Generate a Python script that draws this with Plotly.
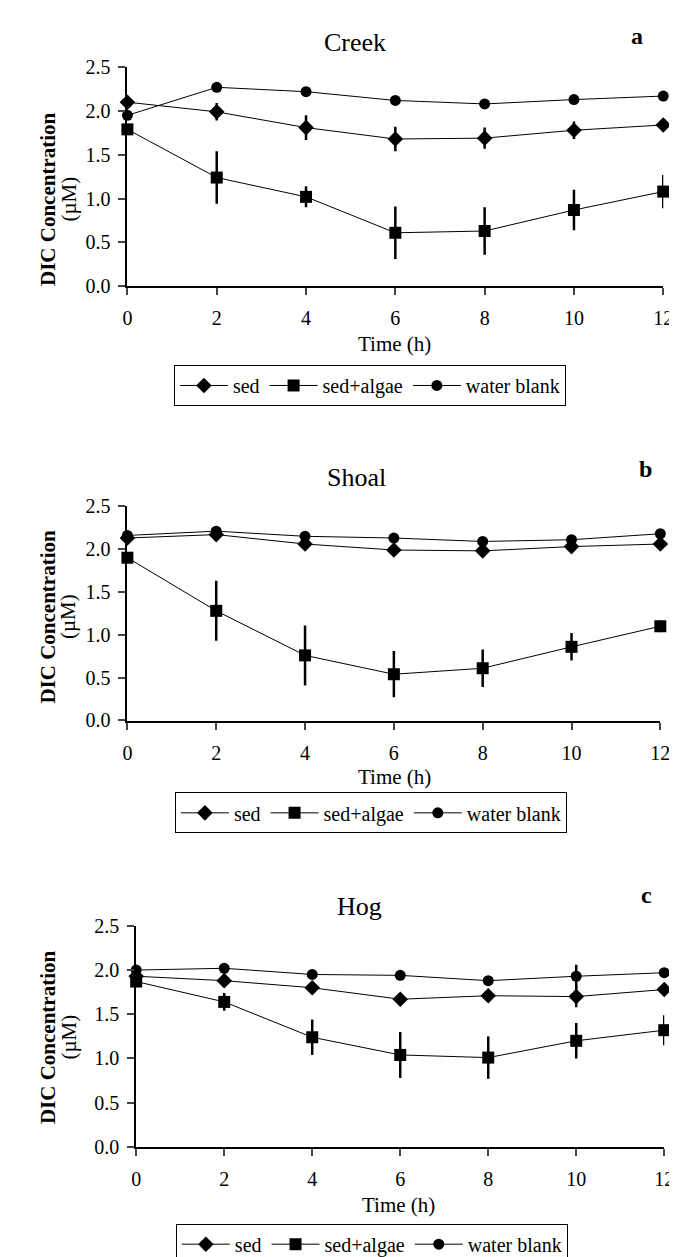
import plotly.graph_objects as go

W, H = 677, 1257
FONT = "Liberation Serif"

time_h = [0, 2, 4, 6, 8, 10, 12]
series_names = ["sed", "sed+algae", "water blank"]
x_ticks = [0, 2, 4, 6, 8, 10, 12]
y_ticks = [0.0, 0.5, 1.0, 1.5, 2.0, 2.5]
y_tick_text = ["0.0", "0.5", "1.0", "1.5", "2.0", "2.5"]

# Panel a: Creek
creek_sed = [2.10, 1.99, 1.81, 1.68, 1.69, 1.78, 1.84]
creek_sed_err = [0.0, 0.10, 0.14, 0.14, 0.12, 0.10, 0.03]
creek_algae = [1.79, 1.24, 1.02, 0.61, 0.63, 0.87, 1.08]
creek_algae_err = [0.05, 0.30, 0.12, 0.30, 0.27, 0.23, 0.19]
creek_water = [1.95, 2.27, 2.22, 2.12, 2.08, 2.13, 2.17]
creek_water_err = [0.0, 0.0, 0.0, 0.0, 0.0, 0.0, 0.0]

# Panel b: Shoal
shoal_sed = [2.13, 2.17, 2.06, 1.99, 1.98, 2.03, 2.06]
shoal_sed_err = [0.03, 0.03, 0.06, 0.02, 0.03, 0.02, 0.02]
shoal_algae = [1.90, 1.28, 0.76, 0.54, 0.61, 0.86, 1.10]
shoal_algae_err = [0.05, 0.35, 0.35, 0.27, 0.22, 0.16, 0.07]
shoal_water = [2.16, 2.21, 2.15, 2.13, 2.09, 2.11, 2.18]
shoal_water_err = [0.0, 0.0, 0.0, 0.0, 0.0, 0.0, 0.0]

# Panel c: Hog
hog_sed = [1.93, 1.88, 1.80, 1.67, 1.71, 1.70, 1.78]
hog_sed_err = [0.0, 0.0, 0.03, 0.02, 0.03, 0.12, 0.02]
hog_algae = [1.87, 1.64, 1.24, 1.04, 1.01, 1.20, 1.32]
hog_algae_err = [0.03, 0.10, 0.20, 0.26, 0.24, 0.20, 0.17]
hog_water = [2.00, 2.02, 1.95, 1.94, 1.88, 1.93, 1.97]
hog_water_err = [0.0, 0.0, 0.0, 0.0, 0.02, 0.13, 0.0]

panel_titles = ["Creek", "Shoal", "Hog"]
panel_letters = ["a", "b", "c"]


def px(x):
    return x / W


def py(y):
    return 1 - y / H


# pixel layout of each panel: x0, x12, ytop(2.5), ybottom(0)
panels = [
    dict(x0=117, x1=665, yt=49, yb=272, title=(350, 24), letter=(638, 17),
         xtitle=(390, 331), legend=(365, 373), ytitle=(183,)),
    dict(x0=117, x1=662, yt=496, yb=714, title=(351, 467), letter=(647, 458),
         xtitle=(390, 772), legend=(366, 808), ytitle=(608,)),
    dict(x0=126, x1=666, yt=923, yb=1148, title=(354, 903), letter=(648, 892),
         xtitle=(394, 1207), legend=(367, 1247), ytitle=(1036,)),
]

data = [
    (creek_sed, creek_sed_err, creek_algae, creek_algae_err, creek_water, creek_water_err),
    (shoal_sed, shoal_sed_err, shoal_algae, shoal_algae_err, shoal_water, shoal_water_err),
    (hog_sed, hog_sed_err, hog_algae, hog_algae_err, hog_water, hog_water_err),
]

symbols = ["diamond", "square", "circle"]
sizes = [12, 12, 11]

fig = go.Figure()
annotations = []
layout = dict(
    width=W, height=H, margin=dict(l=0, r=0, t=0, b=0),
    paper_bgcolor="white", plot_bgcolor="white",
    font=dict(family=FONT, color="black", size=20),
    showlegend=True,
)

for i, (p, d) in enumerate(zip(panels, data)):
    n = "" if i == 0 else str(i + 1)
    xa = "x" + n
    ya = "y" + n
    leg = "legend" + n
    vals = [(d[0], d[1]), (d[2], d[3]), (d[4], d[5])]
    for k, (v, e) in enumerate(vals):
        fig.add_trace(go.Scatter(
            x=time_h, y=v, name=series_names[k], mode="lines+markers",
            xaxis=xa, yaxis=ya, legend=leg, cliponaxis=False,
            line=dict(color="black", width=1),
            marker=dict(symbol=symbols[k], size=sizes[k], color="black"),
            error_y=dict(type="data", array=e, visible=True, color="black",
                         thickness=2.5, width=0),
        ))
    layout["xaxis" + n] = dict(
        domain=[px(p["x0"]), px(p["x1"])], anchor=ya, range=[0, 12],
        tickvals=x_ticks, ticks="outside", ticklen=7, tickwidth=2,
        showline=True, linewidth=2, linecolor="black", showgrid=False,
        zeroline=False, tickfont=dict(size=20, family=FONT),
        ticklabelstandoff=6,
    )
    layout["yaxis" + n] = dict(
        domain=[py(p["yb"]), py(p["yt"])], anchor=xa, range=[0, 2.5],
        tickvals=y_ticks, ticktext=y_tick_text, ticks="outside", ticklen=7,
        tickwidth=2, showline=True, linewidth=2, linecolor="black",
        showgrid=False, zeroline=False, tickfont=dict(size=20, family=FONT),
        ticklabelstandoff=4,
    )
    layout[leg] = dict(
        x=px(p["legend"][0]), y=py(p["legend"][1]), xanchor="center",
        yanchor="middle", orientation="h", bordercolor="black", borderwidth=1,
        bgcolor="white", font=dict(size=20, family=FONT),
        itemwidth=48, tracegroupgap=0,
    )
    annotations.append(dict(
        text=panel_titles[i], x=px(p["title"][0]), y=py(p["title"][1]),
        xref="paper", yref="paper", showarrow=False, xanchor="center",
        yanchor="middle", font=dict(size=26, family=FONT)))
    annotations.append(dict(
        text="<b>" + panel_letters[i] + "</b>", x=px(p["letter"][0]),
        y=py(p["letter"][1]), xref="paper", yref="paper", showarrow=False,
        xanchor="center", yanchor="middle", font=dict(size=24, family=FONT)))
    annotations.append(dict(
        text="Time (h)", x=px(p["xtitle"][0]), y=py(p["xtitle"][1]),
        xref="paper", yref="paper", showarrow=False, xanchor="center",
        yanchor="middle", font=dict(size=21, family=FONT)))
    annotations.append(dict(
        text="<b>DIC Concentration</b>", x=px(36), y=py(p["ytitle"][0]),
        xref="paper", yref="paper", showarrow=False, xanchor="center",
        yanchor="middle", textangle=-90, font=dict(size=21, family=FONT)))
    annotations.append(dict(
        text="(\u00b5M)", x=px(57), y=py(p["ytitle"][0]),
        xref="paper", yref="paper", showarrow=False, xanchor="center",
        yanchor="middle", textangle=-90, font=dict(size=21, family=FONT)))

layout["annotations"] = annotations
fig.update_layout(**layout)
fig.write_html("out.html")
